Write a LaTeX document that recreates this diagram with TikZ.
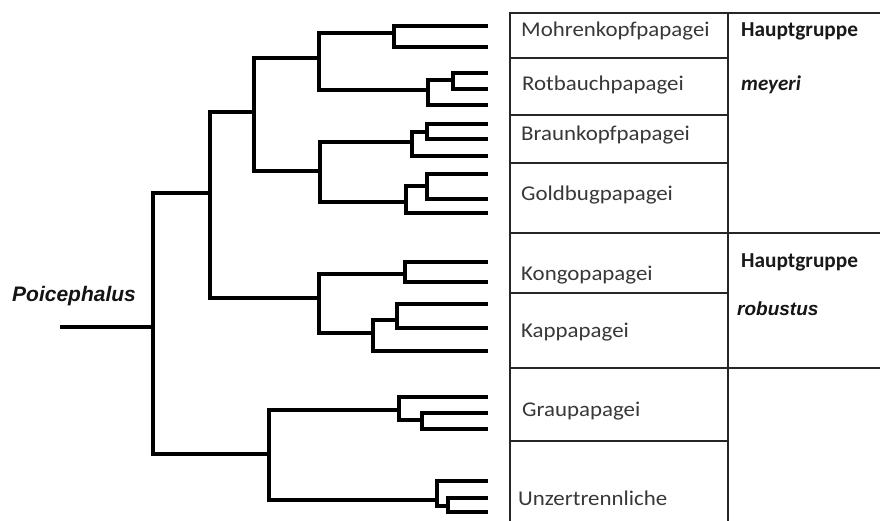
\documentclass[tikz,border=0pt]{standalone}
\usepackage{fontspec}
\setmainfont{Carlito}
\newfontfamily\tabfont[FakeStretch=1.09]{Carlito}
\newfontfamily\arialfont{Liberation Sans}
\begin{document}
\begin{tikzpicture}[x=1pt,y=-1pt,
  branch/.style={line width=4.6pt, line join=miter, black},
  gridline/.style={line width=1.4pt, black!85},
  taxon/.style={anchor=base west, inner sep=0pt, font=\tabfont\fontsize{21}{21}\selectfont, text=black!78},
  groupname/.style={anchor=base west, inner sep=0pt, font=\bfseries\fontsize{21.3}{21}\selectfont, text=black!90},
  groupital/.style={anchor=base west, inner sep=0pt, font=\bfseries\itshape\fontsize{21}{21}\selectfont, text=black!90},
  genus/.style={anchor=base west, inner sep=0pt, font=\arialfont\bfseries\itshape\fontsize{21}{21}\selectfont, text=black!92}
]
\useasboundingbox (0,0) rectangle (880,521);
\fill[white] (0,0) rectangle (880,521);

% ---- tree coordinates ----
\coordinate (stem) at (60,327);
\coordinate (root) at (153,327);
\coordinate (n1) at (210,193);
\coordinate (n2) at (269,454);
\coordinate (n3) at (254,112);
\coordinate (n4) at (319,298);
\coordinate (n5) at (319,58);
\coordinate (n6) at (320,171);
\coordinate (n7) at (394,33);
\coordinate (n8) at (428,90);
\coordinate (n9) at (453,80);
\coordinate (n10) at (412,142);
\coordinate (n11) at (406,202);
\coordinate (n12) at (427,132);
\coordinate (n13) at (427,186);
\coordinate (n14) at (405,274);
\coordinate (n15) at (373,333);
\coordinate (n16) at (397,320);
\coordinate (n17) at (399,410);
\coordinate (n18) at (422,420);
\coordinate (n19) at (437,500);
\coordinate (n20) at (448,506);
\foreach \i/\y in {1/26,2/47,3/73,4/89,5/105,6/124,7/139,8/156,9/174,10/199,11/213,
                   12/262,13/282,14/304,15/328,16/351,17/397,18/413,19/429,20/481,21/498,22/512}
  \coordinate (t\i) at (488,\y);

% ---- branches ----
\draw[branch] (stem) -- (root);
\foreach \p/\c in {root/n1, root/n2,
                   n1/n3, n1/n4,
                   n3/n5, n3/n6,
                   n5/n7, n5/n8,
                   n7/t1, n7/t2,
                   n8/n9, n8/t5,
                   n9/t3, n9/t4,
                   n6/n10, n6/n11,
                   n10/n12, n10/t8,
                   n12/t6, n12/t7,
                   n11/n13, n11/t11,
                   n13/t9, n13/t10,
                   n4/n14, n4/n15,
                   n14/t12, n14/t13,
                   n15/n16, n15/t16,
                   n16/t14, n16/t15,
                   n2/n17, n2/n19,
                   n17/t17, n17/n18,
                   n18/t18, n18/t19,
                   n19/t20, n19/n20,
                   n20/t21, n20/t22}
  \draw[branch] (\p) |- (\c);

\node[genus] (poi) at (12,301.5) {Poicephalus};

% ---- table ----
\draw[gridline] (880,13) -- (510,13) -- (510,521);
\draw[gridline] (728,13) -- (728,521);
\foreach \y in {58,115,163,293,441}
  \draw[gridline] (510,\y) -- (728,\y);
\foreach \y in {233,368}
  \draw[gridline] (510,\y) -- (880,\y);

\node[taxon] (mohren) at (521,37) {Mohrenkopfpapagei};
\node[taxon] (rotbauch) at (522,90.5) {Rotbauchpapagei};
\node[taxon] (braun) at (521,140.5) {Braunkopfpapagei};
\node[taxon] (gold) at (521,201) {Goldbugpapagei};
\node[taxon] (kongo) at (521,280.5) {Kongopapagei};
\node[taxon] (kap) at (521,337) {Kappapagei};
\node[taxon] (grau) at (522,416) {Graupapagei};
\node[taxon] (unz) at (518,505) {Unzertrennliche};

\node[groupname] (hg1) at (741,37) {Hauptgruppe};
\node[groupital] (mey) at (741,90.5) {meyeri};
\node[groupname] (hg2) at (741,268) {Hauptgruppe};
\node[genus, font=\arialfont\bfseries\itshape\fontsize{19}{19}\selectfont] (rob) at (737,315) {robustus};
\end{tikzpicture}
\end{document}
